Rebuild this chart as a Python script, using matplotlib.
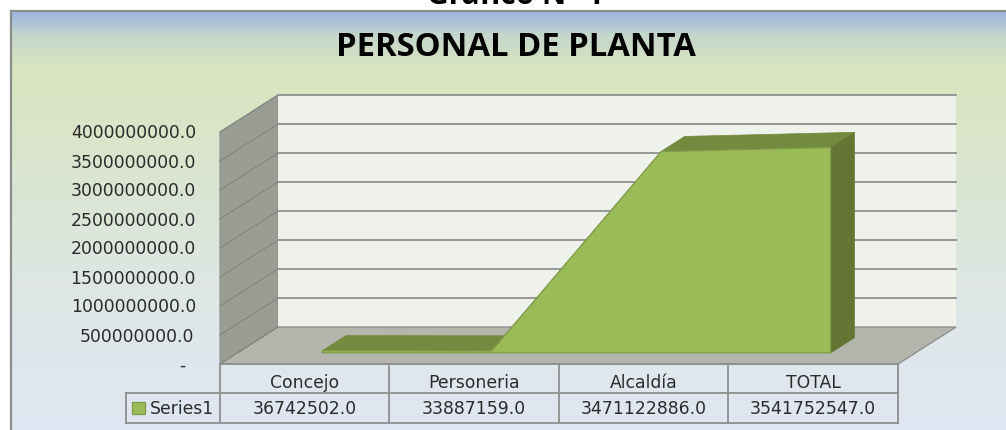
import matplotlib

matplotlib.use("Agg")
import matplotlib.pyplot as plt
import numpy as np
from matplotlib.patches import Polygon, Rectangle

# ===== datos =====
CATEGORIES = ["Concejo", "Personeria", "Alcaldía", "TOTAL"]
VALUES = [36742502.0, 33887159.0, 3471122886.0, 3541752547.0]
SERIES_NAME = "Series1"
Y_TICKS = [0, 500000000, 1000000000, 1500000000, 2000000000, 2500000000, 3000000000, 3500000000, 4000000000]
CHART_TITLE = "PERSONAL DE PLANTA"
PAGE_TITLE = "Gráfico N° 1"

# ===== geometria (pixeles de la imagen) =====
FRONT_LEFT = 220
FRONT_RIGHT = 898
FRONT_BOTTOM = 364
PX_PER_UNIT = 232 / 4000000000
DEPTH_X = 58
DEPTH_Y = 37
AREA_D0 = 0.30
AREA_D1 = 0.71

GRID = "#8f8f8f"
TEXT_COLOR = "#2b2b2b"
LABEL_SIZE = 12.4

plt.rcParams["font.family"] = ["DejaVu Sans"]


def proj(x, value, depth=0.0):
    """pasa (x, valor, profundidad) a pixeles de la figura"""
    return x + DEPTH_X * depth, FRONT_BOTTOM - value * PX_PER_UNIT - DEPTH_Y * depth


fig = plt.figure(figsize=(10.06, 4.30), dpi=100)
ax = fig.add_axes([0, 0, 1, 1])
ax.set_xlim(0, 1006)
ax.set_ylim(430, 0)
ax.axis("off")

# fondo degradado del panel
stops_y = [11, 20, 35, 68, 200, 300, 430]
stops_c = ["#9db5e0", "#a9c0d8", "#c5d7cc", "#d9e4bf", "#dbe5d5", "#dfe6e6", "#e0e7f2"]
rows = np.arange(11, 431)
rgb = np.array([matplotlib.colors.to_rgb(c) for c in stops_c])
grad = np.stack([np.interp(rows, stops_y, rgb[:, i]) for i in range(3)], axis=1)
ax.imshow(grad[:, None, :], extent=(11, 1006, 430, 11), aspect="auto", zorder=0, interpolation="bilinear")
ax.set_xlim(0, 1006)
ax.set_ylim(430, 0)
ax.plot([11, 11], [430, 11], color="#8c8c8c", lw=1.6, zorder=1)
ax.plot([11, 1006], [11, 11], color="#8c8c8c", lw=1.6, zorder=1)

# paredes y piso
y_max = Y_TICKS[-1]
ax.add_patch(Polygon([proj(FRONT_LEFT, 0), proj(FRONT_LEFT, y_max), proj(FRONT_LEFT, y_max, 1), proj(FRONT_LEFT, 0, 1)],
                     fc="#9a9d94", ec=GRID, lw=0.8, zorder=2))
ax.add_patch(Polygon([proj(FRONT_LEFT, 0, 1), proj(FRONT_LEFT, y_max, 1), proj(FRONT_RIGHT, y_max, 1), proj(FRONT_RIGHT, 0, 1)],
                     fc="#eff2ea", ec="none", zorder=2))
ax.add_patch(Polygon([proj(FRONT_LEFT, 0), proj(FRONT_RIGHT, 0), proj(FRONT_RIGHT, 0, 1), proj(FRONT_LEFT, 0, 1)],
                     fc="#b4b6ae", ec=GRID, lw=1.0, zorder=2))

for tick in Y_TICKS:
    p0, p1, p2 = proj(FRONT_LEFT, tick), proj(FRONT_LEFT, tick, 1), proj(FRONT_RIGHT, tick, 1)
    ax.plot([p0[0], p1[0]], [p0[1], p1[1]], color="#83867d", lw=0.8, zorder=3)
    if tick > 0:
        ax.plot([p1[0], p2[0]], [p1[1], p2[1]], color=GRID, lw=1.3, zorder=3)
    label = "-" if tick == 0 else f"{tick:.1f}"
    right = 185 if tick == 0 else (194.5 if tick == 500000000 else 196)
    ax.text(right, p0[1] + 1.5, label, ha="right", va="center", fontsize=LABEL_SIZE, color=TEXT_COLOR, zorder=6)

# area 3D
col_w = (FRONT_RIGHT - FRONT_LEFT) / len(CATEGORIES)
xs = [FRONT_LEFT + col_w * (i + 0.5) for i in range(len(CATEGORIES))]
front = [proj(x, v, AREA_D0) for x, v in zip(xs, VALUES)]
back = [proj(x, v, AREA_D1) for x, v in zip(xs, VALUES)]
for i in range(len(xs) - 1):
    ax.add_patch(Polygon([front[i], front[i + 1], back[i + 1], back[i]], fc="#748a3f", ec="#748a3f", lw=0.5, zorder=4))
ax.add_patch(Polygon([proj(xs[-1], 0, AREA_D0), front[-1], back[-1], proj(xs[-1], 0, AREA_D1)],
                     fc="#647534", ec="#647534", lw=0.5, zorder=4))
ax.add_patch(Polygon([proj(xs[0], 0, AREA_D0)] + front + [proj(xs[-1], 0, AREA_D0)],
                     fc="#9bbb59", ec="#7f9a48", lw=0.9, zorder=5))

# tabla de datos
T_H0, T_H1, T_H2 = FRONT_BOTTOM, 393, 423
T_KEY = 126
for i in range(len(CATEGORIES) + 1):
    x = FRONT_LEFT + col_w * i
    ax.plot([x, x], [T_H0, T_H2], color=GRID, lw=1.3, zorder=6)
ax.plot([FRONT_LEFT, FRONT_RIGHT], [T_H0, T_H0], color=GRID, lw=1.3, zorder=6)
ax.plot([T_KEY, FRONT_RIGHT], [T_H1, T_H1], color=GRID, lw=1.3, zorder=6)
ax.plot([T_KEY, FRONT_RIGHT], [T_H2, T_H2], color=GRID, lw=1.3, zorder=6)
ax.plot([T_KEY, T_KEY], [T_H1, T_H2], color=GRID, lw=1.3, zorder=6)

for x, cat, val in zip(xs, CATEGORIES, VALUES):
    ax.text(x, 383, cat, ha="center", va="center", fontsize=LABEL_SIZE, color=TEXT_COLOR, zorder=7)
    ax.text(x, 409, f"{val:.1f}", ha="center", va="center", fontsize=LABEL_SIZE, color=TEXT_COLOR, zorder=7)
ax.add_patch(Rectangle((132.5, 402), 13, 12, fc="#9bbb59", ec="#7f9a48", lw=0.9, zorder=7))
ax.text(150, 408.5, SERIES_NAME, ha="left", va="center", fontsize=LABEL_SIZE, color=TEXT_COLOR, zorder=7)

# titulos
ax.text(515.5, 47.5, CHART_TITLE, ha="center", va="center", fontsize=23.6, fontweight="bold", color="black",
        family="Open Sans", zorder=7)
ax.text(515.5, 4, PAGE_TITLE, ha="center", va="baseline", fontsize=21.5, fontweight="bold", color="black",
        family="Open Sans", zorder=7)

fig.savefig("out.png", dpi=100)
